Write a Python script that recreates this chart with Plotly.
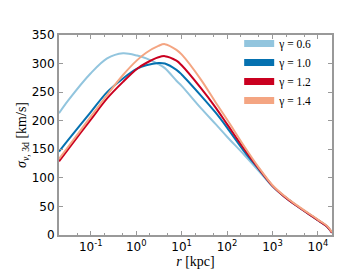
import plotly.graph_objects as go

# radius [kpc]
r_kpc = [0.02, 0.0316, 0.1, 0.229, 0.513, 1.05, 1.66, 3.09, 4.27, 7.69, 10.0,
         26.6, 56.2, 100.0, 240.0, 501.0, 1000.0, 1778.0, 3162.0, 10000.0, 15850.0, 20420.0]

sigma_g06 = [213, 235, 283, 309, 318, 314, 309, 299, 292, 270, 261,
             222, 194, 172, 140, 112, 85, 68, 53, 26, 15, 4]
sigma_g10 = [146, 166, 215, 250, 274, 291, 297, 301, 300, 289, 281,
             244, 214, 188, 146, 115, 86, 68, 53, 26, 15, 4]
sigma_g12 = [129, 150, 202, 239, 268, 291, 301, 311, 313, 305, 297,
             257, 223, 194, 150, 116, 86, 68, 53, 26, 15, 4]
sigma_g14 = [133, 154, 207, 245, 280, 306, 319, 331, 334, 324, 316,
             272, 232, 202, 155, 118, 87, 69, 54, 27, 16, 5]

series_labels = ["γ = 0.6", "γ = 1.0", "γ = 1.2", "γ = 1.4"]
series_colors = ["#92c5de", "#0571b0", "#ca0020", "#f4a582"]

x_tickvals = [0.1, 1, 10, 100, 1000, 10000]
x_ticktext = ["10<sup>-1</sup>", "10<sup>0</sup>", "10<sup>1</sup>",
              "10<sup>2</sup>", "10<sup>3</sup>", "10<sup>4</sup>"]
y_tickvals = [0, 50, 100, 150, 200, 250, 300, 350]

fig = go.Figure()
all_series = [sigma_g06, sigma_g10, sigma_g12, sigma_g14]
for vals, lab, col in zip(all_series, series_labels, series_colors):
    fig.add_trace(go.Scatter(x=r_kpc, y=vals, mode="lines",
                             line=dict(color=col, width=2, shape="spline", smoothing=0.9),
                             showlegend=False, hoverinfo="skip"))
# legend-only entries with thick patches
for lab, col in zip(series_labels, series_colors):
    fig.add_trace(go.Scatter(x=[None], y=[None], mode="lines",
                             line=dict(color=col, width=7), name=lab))

frame = "#999999"
fig.update_layout(
    width=360, height=270,
    margin=dict(l=45, r=36, t=27, b=41),
    paper_bgcolor="white", plot_bgcolor="white",
    font=dict(family="DejaVu Sans", size=12, color="black"),
    showlegend=True,
    legend=dict(x=0.66, y=1.03, xanchor="left", yanchor="top",
                bgcolor="rgba(0,0,0,0)", borderwidth=0,
                font=dict(family="Liberation Serif", size=11.5),
                itemwidth=30, tracegroupgap=0),
)
fig.update_xaxes(
    type="log", range=[-1.699, 4.31],
    tickvals=x_tickvals, ticktext=x_ticktext,
    ticks="inside", ticklen=4, tickcolor=frame, tickwidth=1,
    showline=True, linecolor=frame, linewidth=2, mirror="ticks",
    showgrid=False, zeroline=False,
    minor=dict(ticks="inside", ticklen=2, tickcolor=frame, showgrid=False),
    title=dict(text="<i>r</i> [kpc]", font=dict(family="Liberation Serif", size=14), standoff=2),
)
fig.update_yaxes(
    range=[0, 350], tickvals=y_tickvals,
    ticks="inside", ticklen=4, tickcolor=frame, tickwidth=1,
    showline=True, linecolor=frame, linewidth=2, mirror="ticks",
    showgrid=False, zeroline=False,
    title=dict(text="<i>σ</i><sub><i>v</i>, 3d</sub> [km/s]", font=dict(family="Liberation Serif", size=14), standoff=2),
)
fig.write_html("out.html")
